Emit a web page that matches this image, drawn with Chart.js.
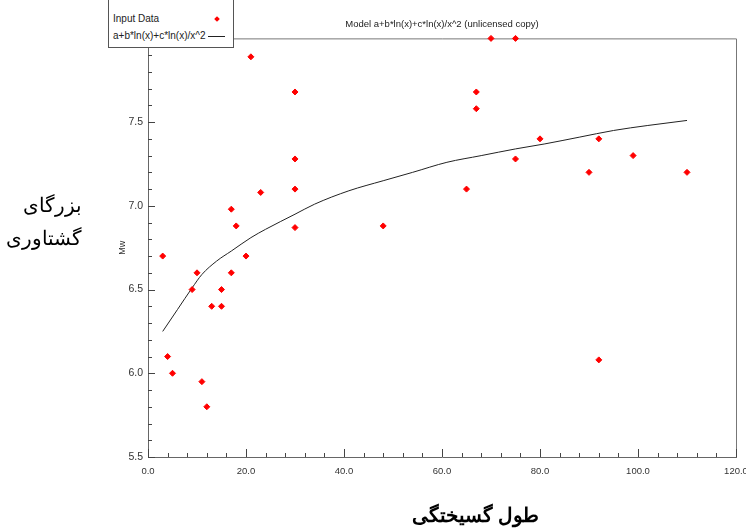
<!DOCTYPE html>
<html><head><meta charset="utf-8">
<script src="https://cdn.jsdelivr.net/npm/chart.js@4.4.1/dist/chart.umd.min.js"></script>
<style>
html,body{margin:0;padding:0;background:#fff;}
#wrap{position:relative;width:746px;height:531px;overflow:hidden;}
canvas{position:absolute;left:0;top:0;}
.fa{position:absolute;font-family:"Times New Roman","Liberation Serif",serif;direction:rtl;color:#000;white-space:nowrap;}
#legend{position:absolute;left:108px;top:-1px;width:124px;height:48px;border:1px solid #555;border-top:none;background:#fff;font-family:"Liberation Sans",Arial,sans-serif;font-size:10px;color:#222;}
#legend .t{position:absolute;left:4px;white-space:nowrap;line-height:12px;}
#mk{position:absolute;left:106px;top:18px;width:4px;height:4px;background:#f00;transform:rotate(45deg);}
#ln{position:absolute;left:99px;top:37px;width:17px;height:1px;background:#222;}
</style></head><body>
<div id="wrap">
<canvas id="c" width="746" height="531"></canvas>
<div id="legend">
  <div class="t" style="top:14px">Input Data</div>
  <div class="t" style="top:31px">a+b*ln(x)+c*ln(x)/x^2</div>
  <div id="mk"></div><div id="ln"></div>
</div>
<div class="fa" style="left:0;width:82px;text-align:right;top:193px;font-size:20px;">بزرگای</div>
<div class="fa" style="left:0;width:82px;text-align:right;top:226px;font-size:20px;">گشتاوری</div>
<div class="fa" style="left:370px;width:210px;text-align:center;top:503px;font-size:20px;font-weight:bold;">طول گسیختگی</div>
</div>
<script>
const titleText = 'Model a+b*ln(x)+c*ln(x)/x^2 (unlicensed copy)';
const yTitle = 'Mw';
const pointX = [3,4,5,9,10,11,12,13,15,15,17,17,18,20,21,23,30,30,30,30,48,65,67,67,70,75,75,80,90,92,92,99,110];
const pointY = [6.70,6.10,6.00,6.50,6.60,5.95,5.80,6.40,6.50,6.40,6.98,6.60,6.88,6.70,7.89,7.08,7.68,7.28,7.10,6.87,6.88,7.10,7.68,7.58,8.00,8.00,7.28,7.40,7.20,7.40,6.08,7.30,7.20];
const curveX = [3,6,9,11,14,17,21,24,30,34,41,48,54,61,68,75,81,88,95,102,110];
const curveY = [6.25,6.38,6.51,6.59,6.67,6.73,6.81,6.86,6.95,7.01,7.09,7.15,7.20,7.26,7.30,7.34,7.37,7.41,7.45,7.48,7.51];

const FONT = '"Liberation Sans",Arial,sans-serif';

const framePlugin = {
  id: 'frame',
  beforeDatasetsDraw(chart) {
    const {ctx, chartArea: a, scales} = chart;
    ctx.save();
    ctx.strokeStyle = '#777';
    ctx.lineWidth = 1;
    ctx.beginPath();
    ctx.moveTo(a.left, a.top + 0.5); ctx.lineTo(a.right + 0.5, a.top + 0.5);
    ctx.lineTo(a.right + 0.5, a.bottom);
    ctx.stroke();
    ctx.strokeStyle = '#444';
    ctx.beginPath();
    const xs = scales.x, ys = scales.y;
    for (let i = 0; ; i++) {
      const v = xs.min + i * 4;
      if (v > xs.max + 1e-9) break;
      const px = Math.round(xs.getPixelForValue(v)) + 0.5;
      const len = (i % 5 === 0) ? 8 : 4;
      ctx.moveTo(px, a.bottom); ctx.lineTo(px, a.bottom - len);
    }
    for (let i = 0; ; i++) {
      const v = ys.min + i * 0.1;
      if (v > ys.max + 1e-9) break;
      const py = Math.round(ys.getPixelForValue(v)) + 0.5;
      const len = (i % 5 === 0) ? 7 : 4;
      ctx.moveTo(a.left, py); ctx.lineTo(a.left + len, py);
    }
    ctx.stroke();
    ctx.restore();
  }
};

new Chart(document.getElementById('c'), {
  type: 'scatter',
  data: {
    datasets: [
      {
        label: 'a+b*ln(x)+c*ln(x)/x^2',
        data: curveX.map((x, i) => ({x, y: curveY[i]})),
        showLine: true,
        borderColor: '#222',
        borderWidth: 1,
        pointRadius: 0,
        fill: false,
        cubicInterpolationMode: 'monotone',
        order: 2
      },
      {
        label: 'Input Data',
        data: pointX.map((x, i) => ({x, y: pointY[i]})),
        pointStyle: 'rectRot',
        pointRadius: 3,
        pointBackgroundColor: '#ff0000',
        pointBorderColor: '#ff0000',
        pointBorderWidth: 1,
        clip: false,
        order: 1
      }
    ]
  },
  options: {
    responsive: false,
    animation: false,
    layout: {padding: {left: 110, right: 10, top: 0, bottom: 0}},
    plugins: {
      legend: {display: false},
      tooltip: {enabled: false},
      title: {
        display: true, text: titleText, fullSize: false, align: 'center',
        color: '#222', font: {family: FONT, size: 9.5, weight: 'normal'},
        padding: {top: 19, bottom: 8}
      }
    },
    scales: {
      x: {
        type: 'linear', min: 0, max: 120,
        grid: {drawOnChartArea: false, drawTicks: false},
        border: {display: true, color: '#666', width: 1},
        ticks: {stepSize: 20, autoSkip: false, maxRotation: 0, padding: 9,
          color: '#333', font: {family: FONT, size: 9.5},
          callback: v => Number(v).toFixed(1)},
        afterFit: s => { s.height = 74; s.paddingLeft = 0; s.paddingRight = 0; }
      },
      y: {
        type: 'linear', min: 5.5, max: 8.0,
        grid: {drawOnChartArea: false, drawTicks: false},
        border: {display: true, color: '#666', width: 1},
        ticks: {stepSize: 0.5, autoSkip: false, padding: 5,
          color: '#333', font: {family: FONT, size: 10.5},
          callback: v => (v >= 7.99 ? '' : Number(v).toFixed(1))},
        title: {display: true, text: yTitle, color: '#333',
          font: {family: FONT, size: 9}, padding: {top: 7, bottom: 0}},
        afterFit: s => { s.width = 38; s.paddingTop = 0; s.paddingBottom = 0; }
      }
    }
  },
  plugins: [framePlugin]
});
</script>
</body></html>
